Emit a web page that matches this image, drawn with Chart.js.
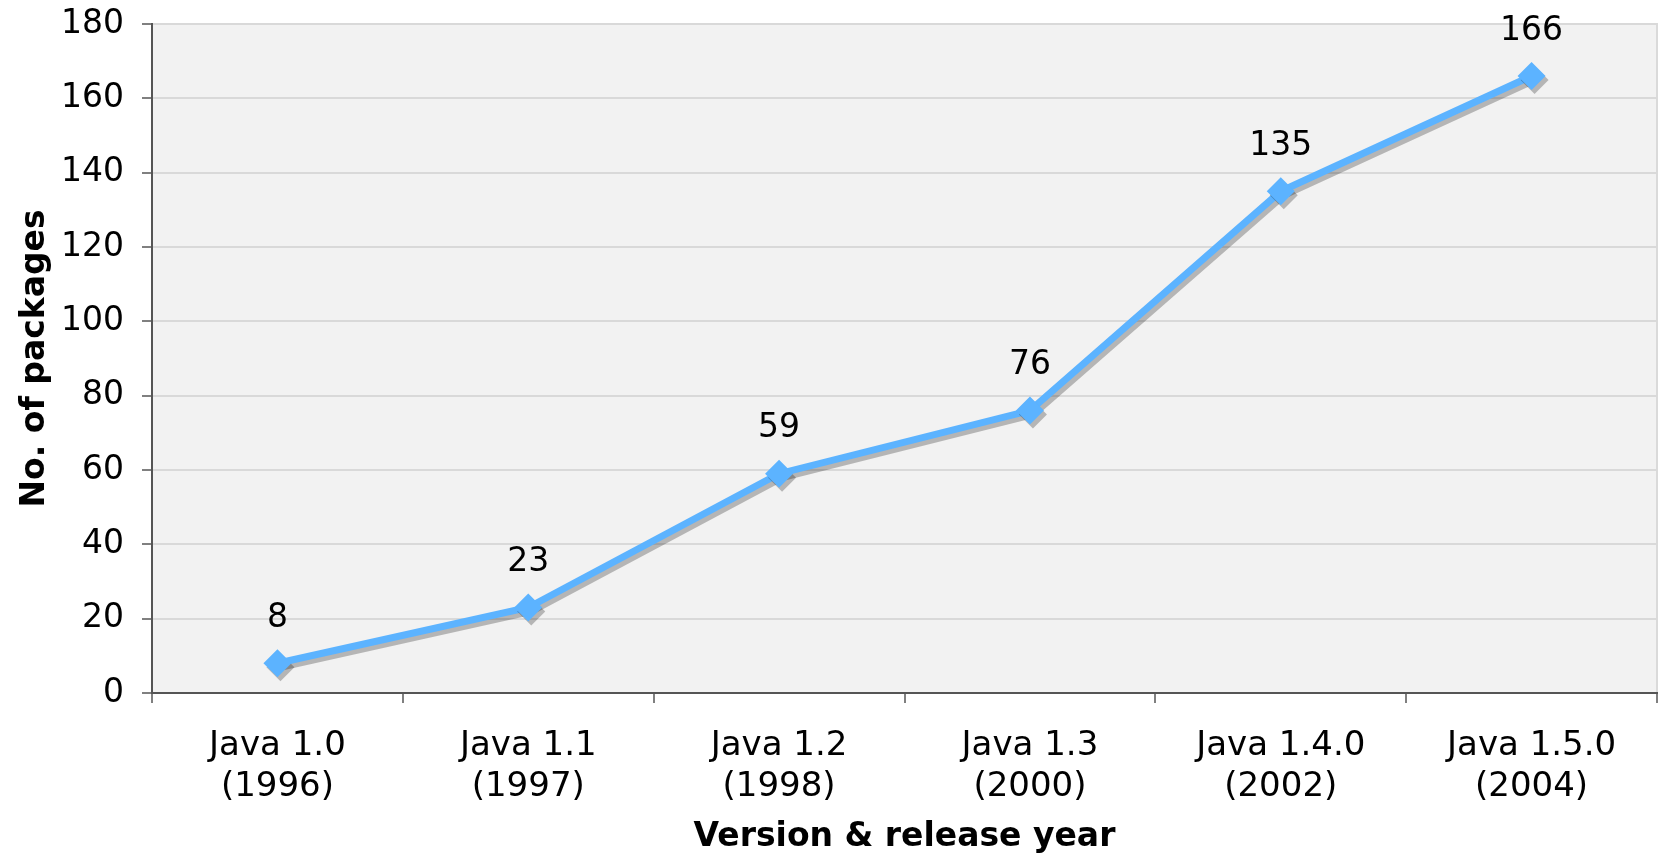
<!DOCTYPE html>
<html lang="en">
<head>
    <meta charset="UTF-8">
    <title>Java packages per version</title>
    <script src="https://cdn.jsdelivr.net/npm/chart.js"></script>
    <style>
        html, body { margin: 0; padding: 0; background: #ffffff; }
        #wrap { width: 1663px; height: 859px; }
    </style>
</head>
<body>
    <div id="wrap">
        <canvas id="myChart" width="1663" height="859"></canvas>
    </div>
    <script>
        // datos de la grafica
        const versions = [
            ['Java 1.0', '(1996)'],
            ['Java 1.1', '(1997)'],
            ['Java 1.2', '(1998)'],
            ['Java 1.3', '(2000)'],
            ['Java 1.4.0', '(2002)'],
            ['Java 1.5.0', '(2004)']
        ];
        const packageCounts = [8, 23, 59, 76, 135, 166];
        const yTicks = [0, 20, 40, 60, 80, 100, 120, 140, 160, 180];

        const FONT = "'DejaVu Sans', Verdana, sans-serif";

        // fondo gris del area de la grafica + borde claro
        const plotBackground = {
            id: 'plotBackground',
            beforeDraw(chart) {
                const { ctx, chartArea: a } = chart;
                ctx.save();
                ctx.fillStyle = '#f2f2f2';
                ctx.fillRect(a.left, a.top, a.right - a.left, a.bottom - a.top);
                ctx.strokeStyle = '#dadada';
                ctx.lineWidth = 2;
                ctx.beginPath();
                ctx.moveTo(a.left, a.top);
                ctx.lineTo(a.right, a.top);
                ctx.lineTo(a.right, a.bottom);
                ctx.stroke();
                ctx.restore();
            }
        };

        // sombra gris debajo de la linea
        const lineShadow = {
            id: 'lineShadow',
            beforeDatasetDraw(chart) {
                const ctx = chart.ctx;
                ctx.save();
                ctx.shadowColor = 'rgba(0, 0, 0, 0.25)';
                ctx.shadowOffsetX = 3;
                ctx.shadowOffsetY = 4;
                ctx.shadowBlur = 0;
            },
            afterDatasetDraw(chart) {
                chart.ctx.restore();
            }
        };

        // etiquetas con el valor encima de cada punto
        const valueLabels = {
            id: 'valueLabels',
            afterDatasetsDraw(chart) {
                const ctx = chart.ctx;
                const meta = chart.getDatasetMeta(0);
                ctx.save();
                ctx.font = '33px ' + FONT;
                ctx.fillStyle = '#000000';
                ctx.textAlign = 'center';
                ctx.textBaseline = 'middle';
                meta.data.forEach((pt, i) => {
                    ctx.fillText(String(packageCounts[i]), pt.x, pt.y - 45);
                });
                ctx.restore();
            }
        };

        const ctx = document.getElementById('myChart').getContext('2d');
        const myChart = new Chart(ctx, {
            type: 'line',
            data: {
                labels: versions,
                datasets: [{
                    label: 'No. of packages',
                    data: packageCounts,
                    borderColor: '#5cb3ff',
                    backgroundColor: '#5cb3ff',
                    borderWidth: 7,
                    pointStyle: 'rectRot',
                    pointRadius: 14,
                    pointBorderWidth: 0,
                    pointBackgroundColor: '#5cb3ff',
                    tension: 0,
                    fill: false
                }]
            },
            plugins: [plotBackground, lineShadow, valueLabels],
            options: {
                responsive: false,
                animation: false,
                layout: { autoPadding: false, padding: { top: 24, right: 6, left: 0, bottom: 0 } },
                plugins: {
                    legend: { display: false },
                    tooltip: { enabled: false }
                },
                scales: {
                    x: {
                        offset: true,
                        border: { display: true, color: '#555555', width: 2 },
                        grid: {
                            offset: true,
                            drawOnChartArea: false,
                            drawTicks: true,
                            tickLength: 10,
                            color: '#808080',
                            lineWidth: 2
                        },
                        ticks: {
                            color: '#000000',
                            font: { family: FONT, size: 34, lineHeight: 1.22 },
                            padding: 22,
                            maxRotation: 0,
                            autoSkip: false
                        },
                        title: {
                            display: true,
                            text: 'Version & release year',
                            color: '#000000',
                            font: { family: FONT, size: 33, weight: 'bold' },
                            padding: { top: 0, bottom: 2 }
                        },
                        afterFit(scale) {
                            scale.height = 166;
                            scale.paddingLeft = 0;
                            scale.paddingRight = 0;
                        }
                    },
                    y: {
                        min: 0,
                        max: 180,
                        afterBuildTicks(scale) {
                            scale.ticks = yTicks.map(v => ({ value: v }));
                        },
                        border: { display: true, color: '#555555', width: 2 },
                        grid: {
                            color: '#d9d9d9',
                            lineWidth: 2,
                            drawTicks: true,
                            tickLength: 10,
                            tickColor: '#808080'
                        },
                        ticks: {
                            color: '#000000',
                            font: { family: FONT, size: 33 },
                            padding: 18
                        },
                        title: {
                            display: true,
                            text: 'No. of packages',
                            color: '#000000',
                            font: { family: FONT, size: 33, weight: 'bold' },
                            padding: { top: 16, bottom: 0 }
                        },
                        afterFit(scale) {
                            scale.width = 152;
                            scale.paddingTop = 0;
                            scale.paddingBottom = 0;
                        }
                    }
                }
            }
        });
    </script>
</body>
</html>
